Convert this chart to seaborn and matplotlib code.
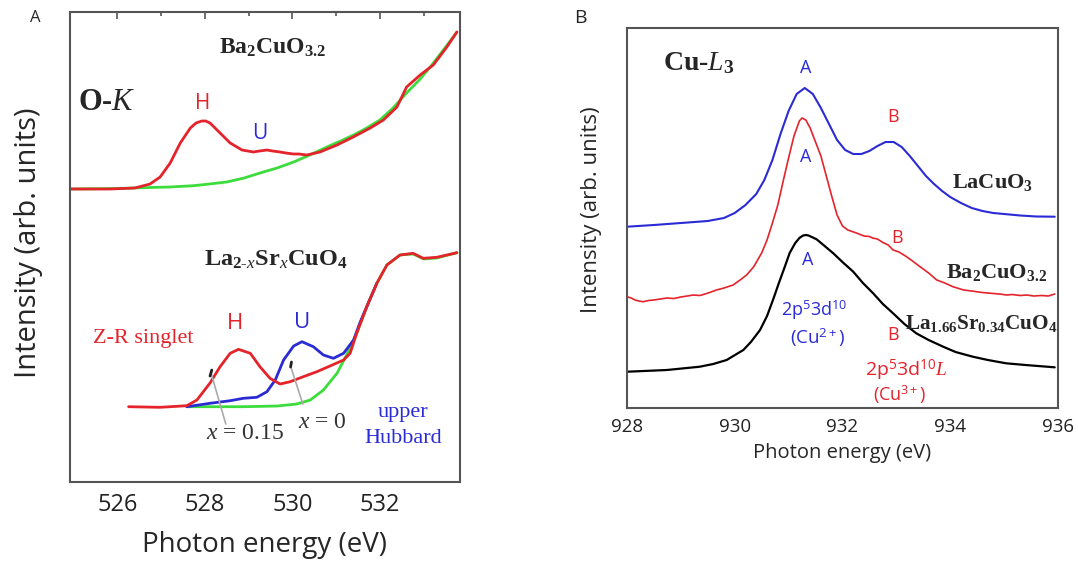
import pandas as pd
import matplotlib.pyplot as plt
import seaborn as sns

# === Panel A: O-K edge, Ba2CuO3.2 (top) ===
a_top_x = [524.93, 525.84, 526.40, 526.75, 526.98, 527.21, 527.44, 527.67, 527.80, 527.93,
           528.02, 528.12, 528.35, 528.58, 528.85, 529.11, 529.25, 529.42, 529.55, 529.72,
           529.85, 530.03, 530.15, 530.33, 530.63, 531.02, 531.39, 531.78, 532.08, 532.39,
           532.61, 532.92, 533.22, 533.53, 533.76]
a_top_red = [2.93, 2.93, 2.94, 2.98, 3.05, 3.19, 3.39, 3.54, 3.59, 3.61,
             3.61, 3.59, 3.49, 3.39, 3.32, 3.30, 3.31, 3.32, 3.31, 3.30,
             3.29, 3.28, 3.28, 3.27, 3.30, 3.37, 3.45, 3.54, 3.62, 3.75,
             3.95, 4.07, 4.17, 4.35, 4.50]
a_top_bg_x = [524.93, 526.0, 526.75, 527.2, 527.74, 528.0, 528.5, 528.9, 529.26, 529.65,
              530.03, 530.4, 530.79, 531.1, 531.4, 531.7, 532.0, 532.3, 532.61, 532.9,
              533.15, 533.45, 533.76]
a_top_bg = [2.93, 2.935, 2.945, 2.95, 2.963, 2.975, 3.0, 3.04, 3.09, 3.14,
            3.2, 3.27, 3.35, 3.41, 3.47, 3.54, 3.62, 3.74, 3.89, 4.02,
            4.15, 4.32, 4.50]

# === Panel A: La2-xSrxCuO4 (bottom) ===
a_x015_x = [526.26, 526.98, 527.59, 527.82, 528.12, 528.35, 528.58, 528.77, 529.04, 529.26,
            529.49, 529.72, 529.95, 530.25, 530.56, 530.86, 531.17, 531.32, 531.47, 531.70,
            531.93, 532.16, 532.46, 532.76, 532.99, 533.30, 533.76]
a_x015 = [0.753, 0.747, 0.763, 0.82, 0.99, 1.153, 1.287, 1.327, 1.287, 1.153,
          1.037, 0.98, 1.003, 1.053, 1.103, 1.16, 1.22, 1.287, 1.487, 1.753,
          1.987, 2.17, 2.27, 2.287, 2.237, 2.247, 2.293]
a_x0_x = [527.59, 528.12, 528.58, 528.88, 529.19, 529.42, 529.61, 529.80, 530.03, 530.22,
          530.48, 530.71, 530.94, 531.17, 531.40, 531.55, 531.70, 531.93]
a_x0 = [0.753, 0.787, 0.813, 0.837, 0.847, 0.903, 1.02, 1.22, 1.36, 1.403,
        1.353, 1.27, 1.237, 1.287, 1.42, 1.60, 1.753, 1.987]
a_bot_bg_x = [527.59, 528.88, 529.65, 530.10, 530.41, 530.71, 531.02, 531.24, 531.47, 531.70,
              531.93, 532.16, 532.46, 532.76, 533.00, 533.30, 533.76]
a_bot_bg = [0.753, 0.753, 0.76, 0.78, 0.82, 0.92, 1.087, 1.27, 1.487, 1.753,
            1.987, 2.17, 2.27, 2.28, 2.23, 2.24, 2.293]

# === Panel B: Cu-L3 edge ===
b_lacuo3_x = [928.0, 928.5, 929.0, 929.5, 929.8, 930.0, 930.2, 930.4, 930.55, 930.7,
              930.85, 931.0, 931.15, 931.3, 931.45, 931.6, 931.75, 931.9, 932.05, 932.2,
              932.35, 932.5, 932.65, 932.8, 932.95, 933.1, 933.25, 933.4, 933.55, 933.7,
              933.85, 934.0, 934.2, 934.4, 934.6, 934.8, 935.0, 935.3, 935.6, 935.94]
b_lacuo3 = [1.813, 1.83, 1.85, 1.87, 1.90, 1.95, 2.03, 2.14, 2.28, 2.48,
            2.74, 2.97, 3.14, 3.20, 3.14, 3.00, 2.84, 2.68, 2.58, 2.54,
            2.54, 2.57, 2.62, 2.66, 2.66, 2.61, 2.52, 2.42, 2.32, 2.24,
            2.17, 2.11, 2.05, 2.00, 1.97, 1.95, 1.94, 1.925, 1.915, 1.913]
b_ba2_x = [928.00, 928.08, 928.15, 928.22, 928.30, 928.40, 928.50, 928.62, 928.74, 928.87,
           929.00, 929.12, 929.23, 929.35, 929.45, 929.56, 929.66, 929.80, 929.97, 930.10,
           930.22, 930.35, 930.50, 930.60, 930.70, 930.80, 930.90, 931.00, 931.10, 931.20,
           931.25, 931.32, 931.40, 931.50, 931.60, 931.70, 931.80, 931.90, 932.00, 932.10,
           932.26, 932.40, 932.50, 932.56, 932.65, 932.75, 932.85, 932.94, 933.05, 933.19,
           933.30, 933.44, 933.60, 933.75, 933.90, 934.05, 934.25, 934.40, 934.49, 934.60,
           934.70, 934.80, 934.92, 935.05, 935.15, 935.30, 935.42, 935.55, 935.70, 935.82,
           935.94]
b_ba2 = [1.113, 1.10, 1.08, 1.07, 1.063, 1.075, 1.08, 1.09, 1.10, 1.095,
         1.11, 1.12, 1.13, 1.125, 1.14, 1.16, 1.18, 1.20, 1.23, 1.28,
         1.33, 1.41, 1.55, 1.68, 1.85, 2.03, 2.27, 2.50, 2.72, 2.87,
         2.90, 2.88, 2.80, 2.66, 2.52, 2.32, 2.12, 1.93, 1.82, 1.78,
         1.75, 1.72, 1.715, 1.70, 1.69, 1.655, 1.63, 1.58, 1.56, 1.513,
         1.47, 1.413, 1.35, 1.28, 1.25, 1.213, 1.18, 1.17, 1.163, 1.155,
         1.15, 1.145, 1.14, 1.13, 1.135, 1.125, 1.13, 1.12, 1.125, 1.12,
         1.14]
b_lsco_x = [928.00, 928.74, 929.35, 929.60, 929.85, 930.16, 930.30, 930.47, 930.60, 930.71,
            930.82, 930.93, 931.02, 931.12, 931.20, 931.27, 931.32, 931.37, 931.45, 931.52,
            931.67, 931.83, 932.00, 932.20, 932.38, 932.57, 932.75, 932.94, 933.15, 933.37,
            933.60, 933.87, 934.10, 934.42, 934.70, 935.04, 935.40, 935.94]
b_lsco = [0.363, 0.38, 0.413, 0.44, 0.48, 0.58, 0.66, 0.78, 0.92, 1.08,
          1.25, 1.413, 1.55, 1.647, 1.70, 1.725, 1.73, 1.725, 1.705, 1.687,
          1.62, 1.547, 1.46, 1.363, 1.25, 1.147, 1.04, 0.947, 0.84, 0.747,
          0.68, 0.613, 0.56, 0.513, 0.48, 0.447, 0.43, 0.407]

RED = '#e4232b'
BLUE = '#2b2bd6'
GREEN = '#3ddc3d'
GREY = '#555555'

sns.set_style('white')
plt.rcParams['font.family'] = ['Open Sans', 'DejaVu Sans']
plt.rcParams['mathtext.fontset'] = 'custom'
plt.rcParams['mathtext.rm'] = 'Liberation Serif'
plt.rcParams['mathtext.it'] = 'Liberation Serif:italic'
plt.rcParams['mathtext.bf'] = 'Liberation Serif:bold'
plt.rcParams['mathtext.sf'] = 'Open Sans'

fig = plt.figure(figsize=(10.78, 5.61), dpi=100)
axA = fig.add_axes([0.0649, 0.1408, 0.3618, 0.8378])
axB = fig.add_axes([0.5816, 0.2727, 0.3998, 0.6774])


def draw(ax, x, y, color, lw):
    df = pd.DataFrame({'E': x, 'I': y})
    sns.lineplot(data=df, x='E', y='I', color=color, lw=lw, ax=ax, sort=False, estimator=None)


# --- Panel A curves ---
draw(axA, a_top_bg_x, a_top_bg, GREEN, 2.0)
draw(axA, a_top_x, a_top_red, RED, 2.0)
draw(axA, a_bot_bg_x, a_bot_bg, GREEN, 2.0)
draw(axA, a_x0_x, a_x0, BLUE, 2.0)
draw(axA, a_x015_x, a_x015, RED, 2.0)

# --- Panel B curves ---
draw(axB, b_lacuo3_x, b_lacuo3, BLUE, 1.5)
draw(axB, b_ba2_x, b_ba2, RED, 1.2)
draw(axB, b_lsco_x, b_lsco, 'black', 1.6)

for ax in (axA, axB):
    for s in ax.spines.values():
        s.set_color(GREY)
        s.set_linewidth(1.5)
    ax.set_yticks([])

# Panel A axis
axA.set_xlim(524.92, 533.83)
axA.set_ylim(0, 4.70)
axA.set_xticks([526, 528, 530, 532])
axA.set_xticks([527, 529, 531, 533], minor=True)
axA.tick_params(axis='x', which='both', direction='in', top=True, color=GREY,
                labelsize=17, pad=8, labelcolor='#222222')
axA.tick_params(axis='x', which='major', length=5, width=1.2)
axA.tick_params(axis='x', which='minor', length=3, width=1.2)
axA.set_xlabel('Photon energy (eV)', fontsize=20, labelpad=10)
axA.set_ylabel('Intensity (arb. units)', fontsize=21)
axA.yaxis.set_label_coords(-0.07, 0.509)

# Panel B axis
axB.set_xlim(928, 936)
axB.set_ylim(0, 3.80)
axB.set_xticks([928, 930, 932, 934, 936])
axB.set_xticks([929, 931, 933, 935], minor=True)
axB.tick_params(axis='x', which='both', direction='in', color=GREY,
                labelsize=13.5, pad=7, labelcolor='#222222')
axB.tick_params(axis='x', which='major', length=5, width=1.2)
axB.tick_params(axis='x', which='minor', length=3, width=1.2)
axB.set_xlabel('Photon energy (eV)', fontsize=14.5, labelpad=5)
axB.set_ylabel('Intensity (arb. units)', fontsize=16)
axB.yaxis.set_label_coords(-0.058, 0.521)

# --- Panel A text ---
fig.text(35 / 1078, 1 - 18 / 561, 'A', fontsize=12, ha='center', va='center')
axA.text(529.54, 4.34, r'$\mathbf{Ba_2CuO_{3.2}}$', fontsize=17, ha='center', va='center')
axA.text(525.77, 3.80, r'$\mathbf{O}$-$\mathbf{\mathit{K}}$', fontsize=22, ha='center',
         va='center', family='Liberation Serif', weight='bold')
axA.text(527.96, 3.79, 'H', color=RED, fontsize=15, ha='center', va='center')
axA.text(529.26, 3.49, 'U', color=BLUE, fontsize=15, ha='center', va='center')
axA.text(529.63, 2.22, r'$\mathbf{La_{2\text{-}\mathit{x}}Sr_{\mathit{x}}CuO_4}$', fontsize=17.5,
         ha='center', va='center')
axA.text(526.59, 1.44, 'Z-R singlet', color=RED, fontsize=16, ha='center', va='center',
         family='Liberation Serif')
axA.text(528.69, 1.59, 'H', color=RED, fontsize=16, ha='center', va='center')
axA.text(530.22, 1.60, 'U', color=BLUE, fontsize=16, ha='center', va='center')
axA.text(528.92, 0.49, r'$x$ = 0.15', color='#333333', fontsize=17, ha='center', va='center',
         family='Liberation Serif')
axA.text(530.68, 0.60, r'$x$ = 0', color='#333333', fontsize=17, ha='center', va='center',
         family='Liberation Serif')
axA.text(532.53, 0.70, 'upper', color=BLUE, fontsize=16, ha='center', va='center',
         family='Liberation Serif')
axA.text(532.53, 0.44, 'Hubbard', color=BLUE, fontsize=16, ha='center', va='center',
         family='Liberation Serif')
# leader lines to the curves
axA.plot([528.15, 528.48], [1.08, 0.58], color='#aaaaaa', lw=1.2)
axA.plot([529.96, 530.24], [1.16, 0.78], color='#aaaaaa', lw=1.2)
axA.plot([528.12, 528.16], [1.06, 1.12], color='#222222', lw=2)
axA.plot([529.96, 529.98], [1.15, 1.20], color='#222222', lw=2)

# --- Panel B text ---
fig.text(580 / 1078, 1 - 18 / 561, 'B', fontsize=14, ha='center', va='center')
axB.text(928.67, 3.45, r'$\mathbf{Cu}$-$\mathbf{\mathit{L}_3}$', fontsize=20, ha='left',
         va='center', family='Liberation Serif', weight='bold')
axB.text(931.32, 3.40, 'A', color=BLUE, fontsize=13, ha='center', va='center')
axB.text(932.94, 2.91, 'B', color=RED, fontsize=13, ha='center', va='center')
axB.text(931.32, 2.51, 'A', color=BLUE, fontsize=13, ha='center', va='center')
axB.text(934.79, 2.26, r'$\mathbf{LaCuO_3}$', fontsize=16, ha='center', va='center')
axB.text(933.01, 1.70, 'B', color=RED, fontsize=13, ha='center', va='center')
axB.text(934.86, 1.36, r'$\mathbf{Ba_2CuO_{3.2}}$', fontsize=16, ha='center', va='center')
axB.text(931.36, 1.48, 'A', color=BLUE, fontsize=13, ha='center', va='center')
axB.text(931.47, 0.98, r'2p$^{\mathsf{5}}$3d$^{\mathsf{10}}$', color=BLUE, fontsize=13,
         ha='center', va='center')
axB.text(931.54, 0.70, r'(Cu$^{\mathsf{2+}}$)', color=BLUE, fontsize=13.5, ha='center', va='center')
axB.text(934.58, 0.85, r'$\mathbf{La_{1.66}Sr_{0.34}CuO_4}$', fontsize=15.3, ha='center',
         va='center')
axB.text(932.94, 0.73, 'B', color=RED, fontsize=13, ha='center', va='center')
axB.text(933.18, 0.38, r'2p$^{\mathsf{5}}$3d$^{\mathsf{10}}$$\mathit{L}$', color=RED,
         fontsize=14, ha='center', va='center')
axB.text(933.05, 0.13, r'(Cu$^{\mathsf{3+}}$)', color=RED, fontsize=13, ha='center', va='center')

plt.savefig('out.png', dpi=100)
